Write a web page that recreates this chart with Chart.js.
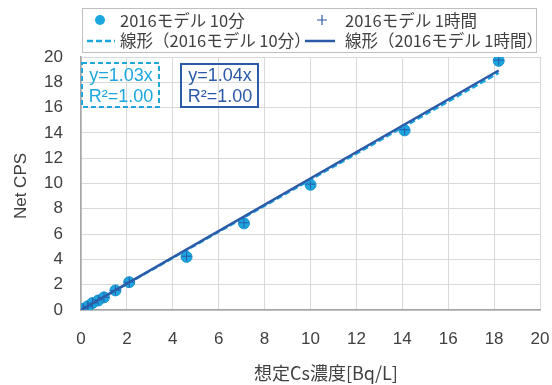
<!DOCTYPE html>
<html>
<head>
<meta charset="utf-8">
<script src="https://cdn.jsdelivr.net/npm/chart.js@4/dist/chart.umd.min.js"></script>
<style>
  body { margin: 0; background: #fff; }
  #wrap { width: 552px; height: 385px; position: relative; }
</style>
</head>
<body>
<div id="wrap"><canvas id="c"></canvas></div>
<script>
// data
var concX   = [0.1, 0.3, 0.5, 0.75, 1.0, 1.5, 2.1, 4.6, 7.1, 10.0, 14.1, 18.2];
var cps10m  = [0.1, 0.3, 0.55, 0.75, 1.0, 1.55, 2.2, 4.2, 6.85, 9.9, 14.2, 19.7];
var cps1h   = [0.1, 0.3, 0.55, 0.8, 1.0, 1.55, 2.2, 4.25, 6.9, 9.95, 14.25, 19.75];
var trendX  = [0, 18.2];
var trend10m = [0, 18.75];
var trend1h  = [0, 18.93];
var ticks   = [0, 2, 4, 6, 8, 10, 12, 14, 16, 18, 20];
var labels  = ['2016モデル 10分', '2016モデル 1時間', '線形（2016モデル 10分）', '線形（2016モデル 1時間）'];
var xTitle = '想定Cs濃度[Bq/L]';
var yTitle = 'Net CPS';

var FONT = '"Liberation Sans", "Noto Sans CJK JP", sans-serif';
var JFONT = '"Noto Sans CJK JP", sans-serif';
var TXT = '#404040';
var CYAN = '#1ca6df';
var NAVY = '#2b5aa8';

function pts(xs, ys) {
    return xs.map((x, i) => ({x: x, y: ys[i]}));
}

// legend box, axis titles and fit-label boxes
var extras = {
    id: 'extras',
    afterDraw(chart) {
        var ctx = chart.ctx;
        ctx.save();
        // legend frame
        ctx.strokeStyle = '#bfbfbf';
        ctx.lineWidth = 1;
        ctx.strokeRect(82.5, 8.5, 454, 44);
        ctx.font = '16.5px ' + JFONT;
        ctx.fillStyle = TXT;
        ctx.textBaseline = 'middle';
        ctx.fillText(labels[0], 120, 21);
        ctx.fillText(labels[1], 345, 21);
        ctx.fillText(labels[2], 120, 41);
        ctx.fillText(labels[3], 345, 41);
        // markers
        ctx.fillStyle = CYAN;
        ctx.beginPath(); ctx.arc(100, 20, 5, 0, Math.PI * 2); ctx.fill();
        ctx.strokeStyle = NAVY;
        ctx.lineWidth = 1.2;
        ctx.beginPath();
        ctx.moveTo(317, 20); ctx.lineTo(327, 20);
        ctx.moveTo(322, 15); ctx.lineTo(322, 25);
        ctx.stroke();
        ctx.lineWidth = 2.5;
        ctx.strokeStyle = CYAN;
        ctx.setLineDash([6, 3]);
        ctx.beginPath(); ctx.moveTo(87, 41); ctx.lineTo(115, 41); ctx.stroke();
        ctx.setLineDash([]);
        ctx.strokeStyle = NAVY;
        ctx.beginPath(); ctx.moveTo(305, 41); ctx.lineTo(335, 41); ctx.stroke();

        // axis titles
        ctx.fillStyle = TXT;
        ctx.textAlign = 'center';
        ctx.font = '18px ' + JFONT;
        ctx.fillText(xTitle, 326, 373);
        ctx.save();
        ctx.translate(21, 186);
        ctx.rotate(-Math.PI / 2);
        ctx.font = '17px ' + FONT;
        ctx.fillText(yTitle, 0, 0);
        ctx.restore();

        // fit labels
        ctx.lineWidth = 2;
        ctx.strokeStyle = CYAN;
        ctx.setLineDash([5, 3]);
        ctx.strokeRect(82, 63, 77, 44);
        ctx.setLineDash([]);
        ctx.strokeStyle = NAVY;
        ctx.strokeRect(181, 64, 77, 43);
        ctx.font = '18px ' + FONT;
        ctx.fillStyle = CYAN;
        ctx.fillText('y=1.03x', 121, 76);
        ctx.fillText('R²=1.00', 121, 97);
        ctx.fillStyle = NAVY;
        ctx.fillText('y=1.04x', 220, 76);
        ctx.fillText('R²=1.00', 220, 97);
        ctx.restore();
    }
};

var ctx = document.getElementById('c').getContext('2d');
var chart = new Chart(ctx, {
    type: 'scatter',
    data: {
        datasets: [{
            label: labels[0],
            data: pts(concX, cps10m),
            pointStyle: 'circle',
            pointRadius: 5.5,
            backgroundColor: CYAN,
            borderColor: '#1791cc',
            borderWidth: 1,
            order: 3
        }, {
            label: labels[1],
            data: pts(concX, cps1h),
            pointStyle: 'cross',
            pointRadius: 5,
            borderColor: NAVY,
            borderWidth: 1,
            order: 2
        }, {
            type: 'line',
            label: labels[2],
            data: pts(trendX, trend10m),
            borderColor: CYAN,
            borderWidth: 2.5,
            borderDash: [6, 3],
            pointRadius: 0,
            order: 1
        }, {
            type: 'line',
            label: labels[3],
            data: pts(trendX, trend1h),
            borderColor: NAVY,
            borderWidth: 2.5,
            pointRadius: 0,
            order: 0
        }]
    },
    options: {
        responsive: true,
        maintainAspectRatio: false,
        animation: false,
        layout: { padding: { top: 57, right: 12, left: 0, bottom: 0 } },
        plugins: {
            legend: { display: false },
            tooltip: { enabled: false }
        },
        scales: {
            x: {
                type: 'linear',
                min: 0, max: 20,
                afterBuildTicks: axis => { axis.ticks = ticks.map(v => ({value: v})); },
                afterFit: axis => { axis.height = 75; axis.paddingLeft = 0; axis.paddingRight = 0; },
                grid: { color: '#d9d9d9', drawTicks: false },
                border: { color: '#a6a6a6', width: 1.5 },
                ticks: { color: TXT, font: { family: FONT, size: 17 }, padding: 19, maxRotation: 0 }
            },
            y: {
                min: 0, max: 20,
                afterBuildTicks: axis => { axis.ticks = ticks.map(v => ({value: v})); },
                afterFit: axis => { axis.width = 81; axis.paddingTop = 0; axis.paddingBottom = 0; },
                grid: { color: '#d9d9d9', drawTicks: false },
                border: { color: '#a6a6a6', width: 1.5 },
                ticks: { color: TXT, font: { family: FONT, size: 17 }, padding: 18 }
            }
        }
    },
    plugins: [extras]
});
</script>
</body>
</html>
